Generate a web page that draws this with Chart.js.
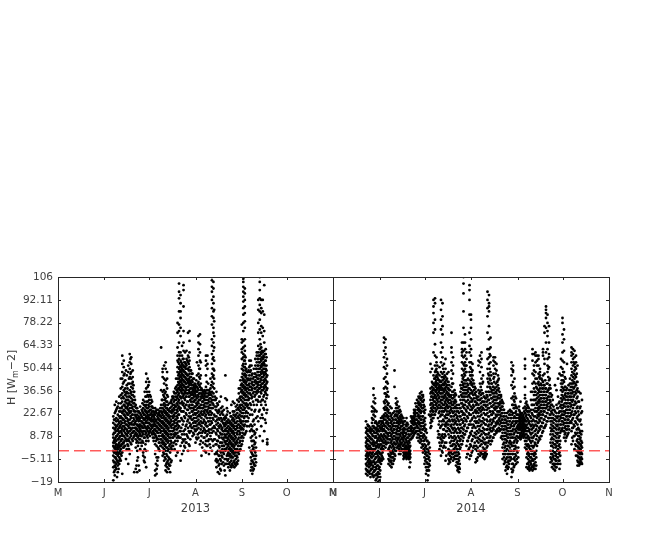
<!DOCTYPE html>
<html>
<head>
<meta charset="utf-8">
<script src="https://cdn.jsdelivr.net/npm/chart.js@4"></script>
<style>
  body { margin: 0; background: #fff; }
  canvas { position: absolute; left: 0; top: 0; }
</style>
</head>
<body>
<canvas id="left" width="652" height="540"></canvas>
<canvas id="right" width="652" height="540"></canvas>
<script>
// Axis labels. x is days since 1 May
var monthDays = [0, 31, 61, 92, 123, 153, 184];
var monthLabels = ["M", "J", "J", "A", "S", "O", "N"];
var yTicks = [-19, -5.11, 8.78, 22.67, 36.56, 50.44, 64.33, 78.22, 92.11, 106];
var yLabels = ["\u221219", "\u22125.11", "8.78", "22.67", "36.56", "50.44", "64.33", "78.22", "92.11", "106"];

// H readings per day
var firstDay2013 = [37];
var h2013 = [
[-18,-10,-6,-3,0,3,5,8,10,14,17,21],
[-15,-12,-9,-7,-4,-1,2,5,7,11,13,16,19,23,28],
[-11,-8,-5,-2,0,4,6,9,12,15,18,20,25,30],
[-13,-9,-7,-3,1,3,7,10,13,16,19,22,27],
[-8,-6,-4,-1,2,5,8,11,14,17,21,24,33],
[-6,-2,1,3,6,9,12,16,18,21,24,29,34,38,44],
[-14,-1,4,7,10,13,17,20,23,27,30,35,39,44,48,53,58],
[2,5,9,12,15,19,22,25,28,32,37,42,46,51,55],
[3,8,11,14,18,21,24,27,30,34,38,43],
[1,6,10,13,16,20,23,26,29,33,36,40,46],
[-8,3,7,11,15,19,22,25,28,31,35,41,48,52],
[-2,8,12,16,19,23,26,30,33,37,41,45,50,54,59],
[4,9,13,17,20,24,28,32,36,39,44,48,53,57],
[6,11,14,18,22,27,31,34,38,42,45,49],
[-13,9,12,16,19,24,29,33,36],
[-11,2,7,11,14,18,21,24,28],
[-13,-6,0,6,10,13,16,19,22,26],
[-9,5,9,12,15,18,21,24],
[1,7,10,13,16,20,23,27],
[3,9,12,15,18,21,25],
[-3,-1,5,10,14,17,20,23,26,31],
[-7,-4,1,8,12,15,19,22,25,30,36],
[-10,0,6,11,14,18,21,24,28,33,38,42,47],
[8,12,15,19,22,26,30,34,39,44],
[11,14,17,20,24,27,31,36,42],
[13,16,19,22,25,29,33],
[10,14,18,21,24,27,30],
[6,11,15,18,21,24],
[-15,-12,-2,4,10,13,16,19,22,26],
[-14,-11,-4,3,8,12,15,19,23,25],
[-4,2,7,11,14,17,20,22,25],
[0,5,9,13,16,19,22,24],
[3,7,12,15,18,21,24,28,37,63],
[-3,2,6,10,14,18,22,26,31,36,45,48,50],
[-6,-2,1,5,9,13,17,21,25,29,33,37,41,44,52],
[-12,-9,-5,0,4,8,12,16,20,24,28,32,36,43,50,54],
[-13,-10,-7,-3,2,7,11,15,19,23,26,30,34,38,44,48],
[-11,-8,-4,1,6,10,14,18,22,25],
[-13,-9,-5,-1,4,8,12,17,21,26],
[-6,1,5,10,14,18,23,27,29,31],
[3,8,12,16,20,24,28,32,33],
[1,9,13,17,21,25,28,31,35],
[-3,4,10,15,19,23,27,31,35,39,44],
[-1,6,11,16,20,24,28,32,36,40,44,48,51,55,58,63,72,78],
[8,15,22,27,31,35,38,41,44,47,50,53,56,60,66,73,77,85,93,97,102],
[-6,3,8,12,26,33,37,40,43,46,49,52,55,60,70,75,81,85,90,95],
[-2,5,10,19,30,35,38,41,44,47,50,53,58,64],
[0,6,12,18,24,29,34,37,40,43,46,49,52,56,61,66,73,88,98,101],
[2,7,13,20,26,31,36,39,42,45,48,51,54,60],
[5,10,16,22,28,33,37,41,44,47,52,56,61],
[0,8,14,19,25,30,35,39,42,46,50,54,58,72],
[3,11,17,23,28,33,36,40,43,47,51,55,60,67,73],
[12,16,21,26,30,34,38,41,45,49],
[9,14,19,24,28,32,35,38,42,47],
[10,15,20,25,30,33,36,39,44],
[5,12,17,22,27,31,34,37,40],
[7,13,18,23,28,32,36,39,46,54],
[8,14,19,24,29,33,37,42,47,52,58,62,66,70],
[4,11,16,21,26,31,35,39,44,50,55,60,65,71],
[-3,9,15,20,24,28,32,35,38],
[5,12,17,22,26,30,33,36],
[0,8,13,18,23,27,31,34,37],
[-1,6,12,17,22,27,31,35,39,46,52,55,58],
[3,10,15,20,25,29,33,37,50,53,58],
[-2,7,13,18,22,26,30,34,37],
[2,9,16,20,24,28,32,35,38,44],
[0,11,17,23,31,36,42,47,53,59,64,68,77,82,87,92,97,100,104,106],
[3,12,19,28,35,41,46,50,57,61,66,72,75,81,85,90,94,99,103],
[-2,7,14,21,27,33],
[-10,-5,-1,4,10,16,21,27,32,36],
[-13,-6,0,6,12,17,23,28],
[-14,-8,-3,2,8,14,19,24,30],
[-12,-6,-1,5,10,15,20,26,33],
[-4,1,5,10,14,19,24,27],
[-9,-2,3,8,12,16,20,25],
[-15,-8,0,5,9,13,17,21,32,46],
[-8,-3,2,6,10,14,18,22,26,31],
[-10,-5,-1,3,7,11,15,19],
[-12,-7,-2,2,6,10,14,18,23],
[-10,-6,-3,1,5,9,13,17,21,28],
[-9,-4,0,4,8,12,16,20,24,30],
[-10,-6,-1,3,7,11,15,19,24,29],
[-9,-5,-1,4,8,13,17,22,27],
[-8,-4,1,5,10,14,18,23,28,31],
[-2,3,8,12,16,20,25,30,35,38],
[1,6,11,15,19,24,28,33,38,43],
[4,9,14,18,23,28,33,37,41,45,50,56,60,62,66,68,77],
[8,13,18,23,27,32,36,40,44,49,53,57,59,63,67,73,78,83,87,91,94,97,100,103,105],
[10,16,21,26,31,35,39,43,47,51,55,58,61,64,68,75,79,84,88,92,96,99],
[12,18,24,29,34,38,42,46,50],
[18,23,28,33,38,43,48],
[2,15,26,32,37,41,46,51,55],
[-12,-8,-4,0,8,16,28,34,39,44,49,55],
[-14,-10,-6,-2,3,9,15,22,33,38,42,47],
[-11,-8,-3,2,6,12,19,28,36,40,45,50],
[-9,-5,-1,5,11,25,34,38,43,47,52,56],
[13,28,35,39,42,46,50,54,58,60],
[18,30,36,40,44,48,52,56,60,64,72,78,86,92],
[9,25,33,38,42,46,50,54,58,62,68,74,80,85,89,93,98,103,106],
[15,28,35,39,43,47,51,55,59,63,72,76,84,87,92],
[6,20,31,37,41,45,48,52,56,60,70,75,85,92],
[12,25,34,38,42,46,50,53,57,61,66,73,83,101],
[17,28,35,39,43,47,50,55,59,62],
[4,5,7,25,34,38,42,46]
];
// second reading of each day, half a day later
var mid2013 = [
[-7,-1,6,11,2,19,-13],
[-10,-4,1,8,14,3,24],
[-16,-6,2,-1,9,15,26],
[-11,-2,4,12,7,18,29],
[-5,0,9,3,15,20,26],
[-3,7,4,14,11,26,32,20],
[2,9,15,5,24,19,33,41],
[6,3,13,17,28,22,36,47],
[-5,10,16,7,26,20,35,31,49],
[4,12,9,22,18,31,27,38],
[1,14,6,24,17,33,29,44],
[10,5,21,14,28,35,24,47,56],
[7,16,11,26,22,34,41,30],
[12,8,20,16,29,25,40,36],
[14,10,22,17,31,27],
[-9,5,13,20,9,26,16],
[-4,3,12,8,20,24,15],
[-12,7,14,11,19,23,16],
[5,12,9,18,15,22],
[6,14,11,20,17,24,29],
[-6,8,16,12,22,19,28],
[4,10,20,14,24,17,33,27],
[9,17,13,23,20,30,26,36],
[6,14,10,24,17,28,21,33,40],
[9,16,12,22,19,29,25,34],
[11,18,15,23,20,27,31],
[8,16,12,22,19,26],
[10,13,20,17,23,8],
[-8,6,12,9,18,15,24],
[-9,-6,7,14,11,21,17],
[1,9,5,16,13,23,19],
[3,11,7,18,15,21,26],
[5,14,9,20,17,26,23,31],
[-1,4,12,8,20,16,28,24,34],
[-4,3,11,7,19,15,27,23,35,31],
[-8,-2,6,2,14,10,22,18,30,26,40],
[-6,0,9,5,17,13,25,21,33,28],
[-5,3,12,8,20,16,24,29,-9],
[-7,2,10,6,19,15,24,30],
[3,8,16,12,21,25,33],
[5,10,18,14,26,22,30,36],
[6,11,19,15,23,27,33,38],
[8,13,21,17,29,25,37,33],
[9,14,22,18,30,26,38,34,46,42,54],
[12,18,25,29,33,37,42,39,48,45,51,58],
[14,20,29,24,36,32,45,39,42,48,54,51],
[7,16,24,28,33,37,43,40,46,52,49,56],
[3,10,21,27,32,39,35,45,42,48,54,51],
[5,15,23,28,33,38,35,44,41,50,47,53],
[9,18,25,30,35,39,43,46,50,55],
[4,12,21,27,33,37,44,41,49,53,57],
[7,15,20,26,31,38,35,45,42,49],
[14,19,24,28,32,36,40,43,47],
[11,17,22,26,30,34,37,40,44],
[13,18,23,27,31,35,38,41],
[8,15,20,25,29,33,36,39,43],
[10,16,21,26,30,34,38,41],
[11,17,22,27,31,35,40,45,50],
[6,13,18,23,28,33,37,41,46,54],
[2,11,17,22,26,30,34,37],
[8,14,19,24,28,32,35],
[4,11,16,21,25,29,33,36],
[3,9,15,20,24,29,33,37,42],
[6,12,18,23,27,31,35,41],
[4,11,16,20,24,28,32,36],
[7,13,18,22,26,30,34,40],
[6,14,20,26,29,33,39,45,50,56],
[7,15,22,31,38,44,49,55,63,70,79,86],
[-6,4,11,18,25,31],
[-7,-2,6,13,19,24,29],
[-9,-3,3,9,15,20,25],
[-11,-5,0,5,11,16,22],
[-8,-3,3,8,13,18,23],
[-7,-1,3,7,12,17,22],
[-12,-5,1,6,10,15,19],
[-5,1,4,8,12,16,20],
[-6,-2,4,8,12,17,24],
[-8,-3,1,5,9,13,17],
[-9,-4,0,4,8,12,16,21],
[-8,-4,-1,3,7,11,15,19],
[-7,-2,2,6,10,14,18,22],
[-8,-3,1,5,9,13,17,21],
[-7,-3,1,6,11,15,20,25],
[-6,-1,3,7,12,16,21,26],
[0,5,10,14,18,22,27,32],
[3,8,13,17,21,26,31,36,40],
[6,11,16,21,25,30,35,39,43,47,52],
[10,15,20,25,29,34,38,42,46,51,55],
[11,18,23,28,33,37,41,45,49,53,57],
[15,21,27,31,36,40,44,48],
[20,26,31,35,40,44,49],
[12,22,29,35,39,43,48,52],
[-10,-6,-1,6,13,25,32,37,41,46,52],
[-12,-7,-3,1,6,12,18,30,35,40,44],
[-9,-5,0,4,10,16,24,33,38,42,47],
[-7,-3,2,8,20,31,36,41,45,50],
[21,31,37,41,44,48,52,56],
[24,33,38,42,46,50,54,58],
[20,30,36,40,44,48,52,56,60,65],
[22,31,37,41,45,49,53,57,61],
[26,33,39,43,47,50,54,58],
[19,30,36,40,44,48,52,55,59],
[23,32,37,41,45,49,52,57],
[]
];

var firstDay2014 = [22];
var h2014 = [
[-14,-11,-8,-5,-3,0,3,5,8,11,14,18],
[-15,-12,-9,-7,-4,-1,2,4,7,10,13,16],
[-13,-10,-8,-5,-2,1,3,6,9,12,15],
[-16,-12,-9,-6,-3,-1,2,5,8,11,14],
[-14,-11,-7,-4,-2,1,4,7,10,13,17,20,24,27],
[-16,-13,-10,-6,-3,0,3,6,9,12,15,19,22,26,30,34,38],
[-15,-12,-8,-5,-2,1,5,8,11,14,17,21,25,29,32],
[-17,-14,-11,-7,-4,-1,2,5,8,11,14,17,24],
[-19,-16,-13,-9,-6,-3,0,4,7,10,13,15],
[-18,-14,-10,-7,-4,-1,3,6,9,12,15,18],
[-8,-5,-2,1,4,7,10,13,16,18,20],
[-4,-1,3,6,9,12,15,18,21],
[3,7,10,13,16,19,22,26,30,38,44,51,57,61,66,69],
[2,6,9,12,15,19,23,27,31,35,39,45,50,54,59,63,68],
[5,8,11,14,18,22,26,30,34,38,42,47,52,56],
[-8,-5,-2,1,5,9,13,17,21,25,29,33],
[-9,-6,-3,0,3,7,11,15,19,23,27],
[-10,-6,-2,2,6,10,14,18,22,26],
[-8,-4,-1,3,7,11,15,19,23],
[-5,-2,2,5,9,13,17,21,24,49,39],
[0,4,8,11,15,19,22,26,29,32],
[2,5,8,12,15,18,22,26,30],
[-2,1,4,8,12,16,19,23,27],
[-2,2,5,9,13,17,20,24],
[1,5,8,11,15,18,21],
[-5,-3,-1,3,6,9,12,16,20],
[-4,-2,0,2,5,9,13,18],
[-5,-3,-1,1,3,6,10,15,20],
[-4,-2,0,2,4,8,12,16],
[-10,-5,-3,-1,2,5,9,14],
[7,10,13,15,18,21],
[8,11,14,17,19,20],
[10,13,16,18,20,23,25],
[11,14,17,21,25,29],
[8,12,15,19,23,27,31],
[6,10,14,18,22,26,30,33],
[5,9,13,17,21,25,29,33,35],
[2,6,11,15,19,24,28,32,36],
[-1,3,8,13,17,21,26,30,33,34],
[-8,-4,0,4,9,14,18,23,27],
[-14,-10,-5,-1,3,8,13],
[-18,-12,-8,-3,1,6],
[-12,-8,-4,0,5,22],
[14,17,21,24,28,31,35,38,48,53],
[18,22,25,29,33,36,39,42,50],
[20,24,28,32,35,38,41,46,60,72,78,84,88,92],
[22,26,30,34,37,41,44,48,52,58,65,74,80,90,93],
[25,29,33,37,40,43,46,50,54,57],
[8,12,20,26,30,34,38,41,44,47],
[1,5,10,18,24,28,33,37,40,43,46,51],
[-3,3,7,15,22,27,31,35,39,42,48,54,60,66,74,80,86,92],
[-1,6,10,16,22,26,31,35,38,43,47,52,57,63,71,76,82,90],
[3,8,13,18,24,28,32,36,40,44,48,53],
[-6,2,9,15,20,25,29,33,37,41,45,50,56],
[12,16,20,24,28,32,36,40,44,47],
[-8,-5,-2,1,10,16,22,27,31,35,38,42,48],
[-7,-3,0,5,12,18,23,27,31,34,37],
[-4,0,6,11,16,21,26,30,34,39,44,49,54,60,63,72],
[-6,-2,4,8,13,18,23,28,32,36,41,47,52,57],
[-5,-1,4,9,14,19,24,29,33,37],
[-9,-5,-1,3,8,13,18,22,26,30,34],
[-12,-10,-7,-3,1,6,11,16,21,26],
[-13,-10,-6,-2,3,8,13,18,23,28,33],
[2,7,12,16,21,26,31,36,40],
[4,9,14,19,24,29,33,38,42,46,50,54,58,60,62,66],
[8,13,18,23,28,33,37,41,45,49,53,57,61,66,75,85,96,106,102],
[10,16,22,28,33,37,41,46,50,54,58,62,66,71],
[-4,3,12,18,24,30,35,39,43,48,52,56,60],
[-2,6,14,20,26,31,36,40,44],
[-5,2,9,16,22,28,33,38,43,48,54,60,64,72,83,92,98,101],
[-3,3,10,16,22,27,32,37,42,46,50,54,58,62,68,75,80,83],
[0,7,14,20,26,31,36,41,46,49,53],
[3,9,15,21,27,32,37,41],
[-7,1,8,14,20,25,30,34,38],
[-6,0,6,12,18,24,29,33],
[-2,5,11,17,23,28,33,37,52,55],
[-3,3,9,15,21,26,31,36,41,48,54,58],
[-2,4,10,16,22,27,32,37,44,51,56,60],
[-4,-2,2,8,14,20,26,30,35,42,46],
[-5,-2,1,7,13,19,25,30,33],
[-3,0,5,10,16,22,27,32,36],
[3,8,13,18,23,28,33,39,44,50,56,62,72,82,87,92,97],
[6,11,16,21,26,31,36,41,46,53,57,62,68,76,85,90,95,88],
[4,9,14,19,24,29,34,38,43,48,54,58,63,69],
[6,12,17,22,27,32,37,41],
[8,13,18,23,28,33,37,39,52,55,57,44,47],
[10,15,20,25,29,33,38,50,54,57],
[11,16,21,26,31,35,39,49,53],
[12,17,22,27,32,37,40,43,46],
[12,16,20,24,28,32,36],
[8,13,17,21,25,29,33,34],
[-5,2,7,11,15,19,23,27,30],
[-8,-4,0,5,9,13,17,21,25],
[-12,-7,-2,3,7,11,15,19],
[-14,-9,-4,1,6,10,14,18,23],
[-10,-6,-2,3,8,12,16,20,24],
[-6,-2,2,6,10,14,18,22,25],
[-16,-11,-5,0,5,10,15,20,24,32,40,46,50,54],
[-12,-8,-2,3,8,13,18,23,28,33,38,42,48,52,49],
[-9,-4,1,6,11,16,21,26,30,35,39,44],
[-8,-3,2,7,12,17,20,24,27,32],
[-7,-1,6,11,15,18,22],
[8,11,14,16,18,20,22,25,27],
[7,10,13,15,17,19,21,23,30],
[9,12,14,16,18,20,23],
[8,11,13,15,17,19,22,26],
[2,6,10,13,16,19,23,27,32,34,39,44,50,52,56],
[-10,-4,1,6,10,14,18,22,26,30],
[-11,-8,-5,-1,4,9,14,19,24,27],
[-12,-9,-6,-2,3,8,13,18,24],
[-11,-8,-4,0,5,10,15,20,25,31,36],
[-12,-9,-5,0,6,11,16,22,28,36,41,47,55,59,62],
[-11,-8,-3,3,9,15,21,28,34,38,42,46,49,52,59],
[-11,-7,-2,4,10,16,21,26,31,36,41,44,48,54,58,60],
[3,9,15,20,24,28,32,38,44,52,55,58],
[6,12,17,21,25,29,33,37,42,47,52,56,58],
[7,13,18,22,26,30,34,38,44,46,48,50],
[9,15,20,24,28,32,36,40,44],
[12,17,22,26,30,34,38,42,46,58,60,62],
[14,19,24,28,32,36,40,47,53,56,72,76],
[16,21,26,30,34,38,60,66,75,81,84,86,88],
[18,23,27,31,36,41,48,52,56,62,70,73,78,83],
[20,25,29,33,38,43,51,57,59,66,76],
[-7,-4,0,5,10,14,18,22,26,30,35,38],
[-10,-6,-2,3,8,13,18,23,28,34],
[-11,-8,-3,2,7,12,17,22,27],
[-12,-8,-5,-1,4,9,14,19,24,40],
[-10,-6,-2,3,8,13,18,23,28,37],
[-8,-4,1,6,11,16,21,26,33,44],
[-11,-6,-1,4,9,14,19,24,30,47],
[12,16,20,24,28,32,37,41,46,51,56],
[14,18,22,26,31,36,41,46,50,55,60,66,71,78,81],
[8,12,17,22,27,32,37,42,48,54,61,68,74],
[6,11,15,19,23,27,31,35,39,44],
[9,13,17,21,25,29,33,38,53],
[11,15,19,23,27,31,35,40],
[17,21,25,29,33,37,41,44],
[4,12,17,22,28,33,37,41,46,50,54,58,60,63],
[6,14,20,26,31,36,41,45,52,56,59,62],
[1,9,15,22,28,34,39,44,49,53,57,61],
[-3,3,10,17,23,29,35,40,45,50,54,58],
[-9,-6,-3,0,3,7,11,16,21,27,33,38,42,52],
[-9,-7,-4,-1,2,5,9,13,22,30,36],
[-8,-6,-2,1,4,8,12,19,27,35],
[-8,-5,-2,2,5,12,24,31]
];
// second reading of each day, half a day later
var mid2014 = [
[-9,-2,6,12,-12,2],
[-6,1,9,15,-13,-3],
[-14,-7,3,8,13,-1],
[-11,-4,1,7,12,-8],
[-15,-9,-1,5,9,15,19],
[-12,-7,1,4,11,14,24],
[-18,-10,-4,3,9,13,18],
[-15,-9,-2,3,6,12,16],
[-14,-11,-5,-1,2,8,12,17],
[-16,-12,-6,-2,4,8,14],
[-6,-3,2,6,9,14,17],
[-5,1,5,8,13,17,20],
[5,9,12,15,21,25,29,35],
[4,8,11,17,21,25,33,42],
[7,10,16,20,24,28,36,41],
[-6,-3,2,7,11,15,19,23],
[-7,-4,-1,5,9,13,17,21],
[-8,-4,0,4,8,12,16,20],
[-6,-2,1,5,9,13,17],
[-3,0,4,7,11,15,19,22],
[2,6,10,13,17,21,24,28],
[3,7,10,14,17,20,24],
[0,3,6,10,14,18,21,25],
[0,4,7,11,15,19,22],
[3,7,10,13,17,20],
[-4,-2,1,4,8,11,14,18],
[-3,-1,1,3,7,11,16],
[-4,-2,0,2,5,8,13,17],
[-5,-3,-1,1,3,6,10,14],
[-7,-4,-2,0,3,7,12],
[8,12,14,17,20],
[9,12,16,18,21],
[11,14,17,19,22,24],
[12,16,19,23,27],
[10,14,17,21,25,29],
[8,12,16,20,24,28,32],
[7,11,15,19,23,27,31],
[4,9,13,17,21,26,30,34],
[1,6,10,15,19,24,28,31],
[-6,-2,2,7,12,16,20,25],
[-12,-7,-3,1,6,11],
[-15,-10,-5,-1,4],
[-9,-6,-2,2],
[15,19,22,26,29,33,36],
[20,24,27,31,35,37,41],
[22,26,30,33,37,40,44],
[24,28,32,36,39,42,45,49],
[27,31,35,38,41,45,48,52],
[10,16,23,28,32,36,39,43],
[3,8,14,21,26,30,35,38,42],
[0,5,9,18,24,29,33,37,40,45],
[2,8,13,19,24,28,33,37,41,45,50],
[5,10,16,21,26,30,34,38,42,46],
[-3,5,12,17,22,27,31,35,39,43],
[14,18,22,26,30,34,38,42],
[-6,-1,8,13,19,24,29,33,37,40],
[-5,-1,3,9,15,21,25,29,33],
[-2,3,8,14,19,24,28,32,36,41],
[-4,1,6,11,16,21,26,30,34],
[-3,2,7,12,17,22,27,31,35],
[-7,-3,1,5,11,16,20,24,28],
[-11,-8,-5,-1,4,9,14,19,24],
[-11,-8,-4,1,6,11,16,21,26],
[4,9,14,19,24,29,34,38],
[6,11,17,22,27,31,35,40,44],
[10,15,20,26,31,35,39,43,47,52],
[12,19,25,30,35,39,43,48,52],
[-2,6,14,21,27,33,37,41],
[1,8,16,23,29,34,38],
[-3,4,11,18,25,30,35,41,46,51],
[-1,6,12,19,25,30,35,40,44,48],
[2,9,16,23,28,34,39,43],
[5,11,18,24,30,35,39],
[-5,3,10,17,23,28,32,36],
[-4,2,8,15,21,26,31],
[0,7,13,19,25,31,35],
[-1,6,12,18,24,29,34,39],
[0,6,12,18,25,30,35,41],
[-3,0,5,11,17,23,28,33],
[-4,-1,4,10,16,22,28,32],
[-2,2,8,13,19,25,30,34],
[5,10,15,21,26,31,36,42,47],
[8,13,18,24,29,34,39,44,50,59],
[6,12,16,22,27,32,36,41,46],
[8,14,19,24,30,35,39],
[10,15,20,26,31,35,42,45],
[12,17,22,27,31,36,41,47],
[13,18,24,29,33,37,42],
[14,19,24,29,34,38,44],
[13,18,22,26,30,34],
[9,15,19,23,27,31],
[-2,4,9,13,17,21,25,29],
[-6,-2,2,7,11,15,19,23],
[-10,-5,0,5,9,13,17,21],
[-11,-7,-2,3,8,12,16,20],
[-8,-4,0,5,10,14,18,22],
[-4,0,4,8,12,16,20,24],
[-13,-8,-2,3,8,12,17,22,28],
[-10,-5,0,5,10,15,20,26,31],
[-6,-2,3,8,13,18,23,28,33],
[-5,0,5,9,14,18,22,26],
[-4,2,8,13,16,20],
[9,13,15,17,19,21,24],
[8,11,14,16,18,20,22],
[10,13,15,17,19,21],
[9,12,14,16,18,20,24],
[4,8,12,15,18,21,25,29],
[-8,-2,3,8,12,16,20,24,28],
[-10,-7,-3,2,7,12,17,22,26],
[-11,-7,-4,1,6,11,16,21],
[-10,-6,-2,3,8,13,18,23,28],
[-10,-6,-2,2,8,14,19,25,31],
[-9,-5,-1,5,12,18,24,31,36],
[-9,-4,0,7,13,18,24,29,34,39],
[5,11,17,22,26,30,35,41],
[8,14,19,23,27,31,36,40,45],
[9,15,20,24,28,32,36,41],
[11,17,22,26,30,34,38,43],
[14,19,24,28,32,36,40],
[15,21,26,30,34,38,43],
[18,23,28,32,36,41],
[20,25,29,33,37,45,50],
[22,27,31,35,40,44],
[-5,-2,3,7,12,16,20,24,28,33],
[-8,-4,0,5,10,15,20,25,31],
[-9,-5,-1,4,9,14,19,25],
[-10,-6,-3,2,6,11,16,21],
[-8,-4,0,5,10,15,20,26],
[-6,-2,3,8,13,18,23,29],
[-8,-3,2,6,11,16,21,27],
[13,18,22,26,30,34,39,43],
[12,16,20,24,28,33,38,43,48],
[10,14,19,24,29,34,39,45],
[8,13,17,21,25,29,33,37],
[10,15,19,23,27,31,35],
[13,17,21,25,29,33,37],
[18,23,27,31,35,39],
[8,14,19,24,30,35,39,43,48],
[9,16,22,28,33,38,42,47,54],
[4,11,18,24,30,36,41,46,51],
[0,6,13,20,26,32,37,42,47],
[-7,-4,-1,2,5,9,14,19,24,30,36],
[-8,-5,-2,1,4,7,11,18,26],
[-7,-4,-1,3,6,10,16,23],
[]
];

// red reference line at H = 0
var zeroDays = [0, 184];
var zeroLine = [0, 0];

var textColor = "#404040";
var frameColor = "#262626";

function points(first, rows) {
  var out = [];
  rows.forEach(function (vals, i) {
    vals.forEach(function (v) { out.push({ x: first + i, y: v }); });
  });
  return out;
}

// Box round the plot with ticks pointing inwards on all four sides
var insideTicks = {
  id: "insideTicks",
  afterDatasetsDraw: function (chart) {
    var c = chart.ctx, a = chart.chartArea, len = 3;
    var sx = chart.scales.x, sy = chart.scales.y;
    c.save();
    c.strokeStyle = frameColor;
    c.lineWidth = 1;
    c.beginPath();
    monthDays.forEach(function (d) {
      var p = Math.round(sx.getPixelForValue(d)) + 0.5;
      c.moveTo(p, a.top); c.lineTo(p, a.top + len);
      c.moveTo(p, a.bottom); c.lineTo(p, a.bottom - len);
    });
    yTicks.forEach(function (v) {
      var p = Math.round(sy.getPixelForValue(v)) + 0.5;
      c.moveTo(a.left, p); c.lineTo(a.left + len, p);
      c.moveTo(a.right, p); c.lineTo(a.right - len, p);
    });
    c.stroke();
    c.strokeRect(a.left + 0.5, a.top + 0.5, a.right - a.left, a.bottom - a.top);
    c.restore();
  }
};

// The y label needs a subscript, which an axis title cannot do
var yLabel = {
  id: "yLabel",
  afterDraw: function (chart) {
    if (chart.canvas.id !== "left") return;
    var c = chart.ctx;
    c.save();
    c.translate(15, 405);
    c.rotate(-Math.PI / 2);
    c.fillStyle = textColor;
    c.textBaseline = "alphabetic";
    c.font = "11px 'DejaVu Sans'";
    c.fillText("H [W", 0, 0);
    var w = c.measureText("H [W").width;
    c.font = "8px 'DejaVu Sans'";
    c.fillText("m", w, 3);
    var w2 = c.measureText("m").width;
    c.font = "11px 'DejaVu Sans'";
    c.fillText("\u22122]", w + w2, 0);
    c.restore();
  }
};

function makeChart(id, year, first, rows, midRows, padding, showY) {
  return new Chart(id, {
    type: "scatter",
    data: {
      datasets: [
        {
          type: "line",
          data: zeroDays.map(function (d, i) { return { x: d, y: zeroLine[i] }; }),
          borderColor: "rgba(255,50,50,0.8)",
          borderWidth: 1.5,
          borderDash: [11, 5],
          pointRadius: 0
        },
        {
          data: points(first, rows).concat(points(first + 0.5, midRows)),
          backgroundColor: "#000",
          borderWidth: 0,
          pointRadius: 1.4
        }
      ]
    },
    options: {
      responsive: false,
      animation: false,
      layout: { padding: padding },
      plugins: { legend: { display: false }, tooltip: { enabled: false } },
      scales: {
        x: {
          type: "linear",
          min: 0,
          max: 184,
          grid: { display: false, drawTicks: false },
          border: { display: false },
          afterBuildTicks: function (s) { s.ticks = monthDays.map(function (d) { return { value: d }; }); },
          afterFit: function (s) { s.height = 58; },
          ticks: {
            autoSkip: false,
            maxRotation: 0,
            padding: 5,
            color: textColor,
            font: { family: "'DejaVu Sans'", size: 10 },
            callback: function (v, i) { return monthLabels[i]; }
          },
          title: {
            display: true,
            text: year,
            color: textColor,
            font: { family: "'DejaVu Sans'", size: 11.5 },
            padding: { top: 3, bottom: 24 }
          }
        },
        y: {
          min: -19,
          max: 106,
          grid: { display: false, drawTicks: false },
          border: { display: false },
          afterBuildTicks: function (s) { s.ticks = yTicks.map(function (v) { return { value: v }; }); },
          afterFit: function (s) { s.width = showY ? 58 : 0; },
          ticks: {
            display: showY,
            autoSkip: false,
            padding: 5,
            color: textColor,
            font: { family: "'DejaVu Sans'", size: 10.5 },
            callback: function (v, i) { return yLabels[i]; }
          }
        }
      }
    },
    plugins: [insideTicks, yLabel]
  });
}

makeChart("left", "2013", firstDay2013[0], h2013, mid2013, { top: 277, right: 319, left: 0, bottom: 0 }, true);
makeChart("right", "2014", firstDay2014[0], h2014, mid2014, { top: 277, right: 43, left: 333, bottom: 0 }, false);
</script>
</body>
</html>
